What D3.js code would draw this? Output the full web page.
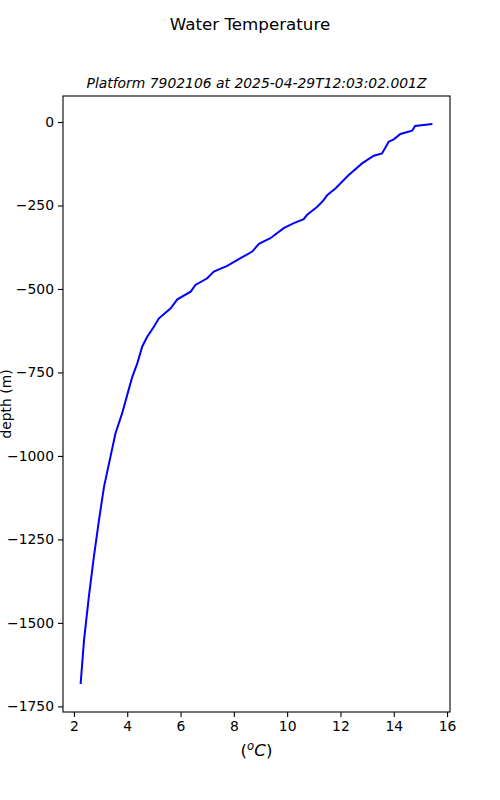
<!DOCTYPE html>
<html>
<head>
<meta charset="utf-8">
<script src="https://d3js.org/d3.v7.min.js"></script>
<style>
    body { margin: 0; background: #fff; }
    text { font-family: "DejaVu Sans", sans-serif; }
</style>
</head>
<body>
<svg id="drawing_region"></svg>
<script>
// profile: temperature (degC) and depth (m)
const temperature = [15.45, 14.8, 14.69, 14.25, 14.0, 13.81, 13.56, 13.25, 12.81, 12.31,
    11.81, 11.5, 11.37, 11.13, 10.75, 10.62, 10.25, 9.87, 9.37, 8.94,
    8.69, 8.25, 7.75, 7.25, 7.0, 6.56, 6.38, 5.88, 5.63, 5.19,
    5.0, 4.75, 4.56, 4.38, 4.19, 4.06, 3.81, 3.56, 3.13, 2.94,
    2.75, 2.56, 2.38, 2.25];
const depth = [-6, -12, -26, -36, -52, -59, -94, -101, -124, -159,
    -199, -219, -234, -254, -278, -291, -303, -318, -348, -365,
    -388, -408, -431, -448, -468, -488, -508, -531, -558, -588,
    -613, -643, -673, -722, -763, -800, -872, -932, -1092, -1192,
    -1301, -1421, -1551, -1683];
const xticks = [2, 4, 6, 8, 10, 12, 14, 16];
const yticks = [0, -250, -500, -750, -1000, -1250, -1500, -1750];

class ProfilePlot {
    constructor(config, data) {
        this.config = config;
        this.data = data;
        this.init();
    }

    init() {
        let self = this;
        const m = self.config.margin;

        self.svg = d3.select(self.config.parent)
            .attr('width', self.config.width)
            .attr('height', self.config.height);

        self.inner_width = self.config.width - m.left - m.right;
        self.inner_height = self.config.height - m.top - m.bottom;

        self.chart = self.svg.append('g')
            .attr('transform', `translate(${m.left}, ${m.top})`);

        self.xscale = d3.scaleLinear().range([0, self.inner_width]);
        self.yscale = d3.scaleLinear().range([self.inner_height, 0]);

        self.xaxis = d3.axisBottom(self.xscale)
            .tickValues(xticks)
            .tickSize(5)
            .tickPadding(4);

        self.yaxis = d3.axisLeft(self.yscale)
            .tickValues(yticks)
            .tickSize(5)
            .tickPadding(4)
            .tickFormat(d => d < 0 ? '\u2212' + Math.abs(d) : d);
    }

    update() {
        let self = this;
        // matplotlib style 5% margins
        const xe = d3.extent(self.data, d => d.t);
        const ye = d3.extent(self.data, d => d.z);
        const xp = (xe[1] - xe[0]) * 0.05;
        const yp = (ye[1] - ye[0]) * 0.05;
        self.xscale.domain([xe[0] - xp, xe[1] + xp]);
        self.yscale.domain([ye[0] - yp, ye[1] + yp]);
        self.render();
    }

    render() {
        let self = this;

        const line = d3.line()
            .x(d => self.xscale(d.t))
            .y(d => self.yscale(d.z));

        self.chart.append('path')
            .datum(self.data)
            .attr('d', line)
            .attr('fill', 'none')
            .attr('stroke', 'blue')
            .attr('stroke-width', 2);

        const xg = self.chart.append('g')
            .attr('transform', `translate(0, ${self.inner_height})`)
            .call(self.xaxis);
        const yg = self.chart.append('g')
            .call(self.yaxis);

        [xg, yg].forEach(g => {
            g.select('.domain').remove();
            g.selectAll('line').attr('stroke', 'black').attr('stroke-width', 1.1);
            g.selectAll('text')
                .attr('fill', 'black')
                .style('font-family', '"DejaVu Sans", sans-serif')
                .style('font-size', '13.9px');
        });

        self.chart.append('rect')
            .attr('width', self.inner_width)
            .attr('height', self.inner_height)
            .attr('fill', 'none')
            .attr('stroke', 'black')
            .attr('stroke-width', 1.1);

        // titles and labels
        self.svg.append('text')
            .attr('x', 250)
            .attr('y', 30)
            .attr('text-anchor', 'middle')
            .style('font-size', '16.7px')
            .text('Water Temperature');

        self.svg.append('text')
            .attr('x', self.config.margin.left + self.inner_width / 2)
            .attr('y', 88)
            .attr('text-anchor', 'middle')
            .style('font-size', '13.9px')
            .style('font-style', 'italic')
            .text('Platform 7902106 at 2025-04-29T12:03:02.001Z');

        self.svg.append('text')
            .attr('transform', `translate(11, ${self.config.margin.top + self.inner_height / 2}) rotate(-90)`)
            .attr('text-anchor', 'middle')
            .style('font-size', '13.9px')
            .text('depth (m)');

        const xl = self.svg.append('text')
            .attr('x', self.config.margin.left + self.inner_width / 2)
            .attr('y', 756)
            .attr('text-anchor', 'middle')
            .style('font-size', '16.7px');
        xl.append('tspan').text('(');
        xl.append('tspan').attr('dy', -6).style('font-size', '11.7px').style('font-style', 'italic').text('o');
        xl.append('tspan').attr('dy', 6).style('font-style', 'italic').text('C');
        xl.append('tspan').text(')');
    }
}

const data = temperature.map((t, i) => ({ t: t, z: depth[i] }));

const config = {
    parent: '#drawing_region',
    width: 500,
    height: 800,
    margin: { top: 96, right: 50, bottom: 88, left: 63 },
};

const plot = new ProfilePlot(config, data);
plot.update();
</script>
</body>
</html>
